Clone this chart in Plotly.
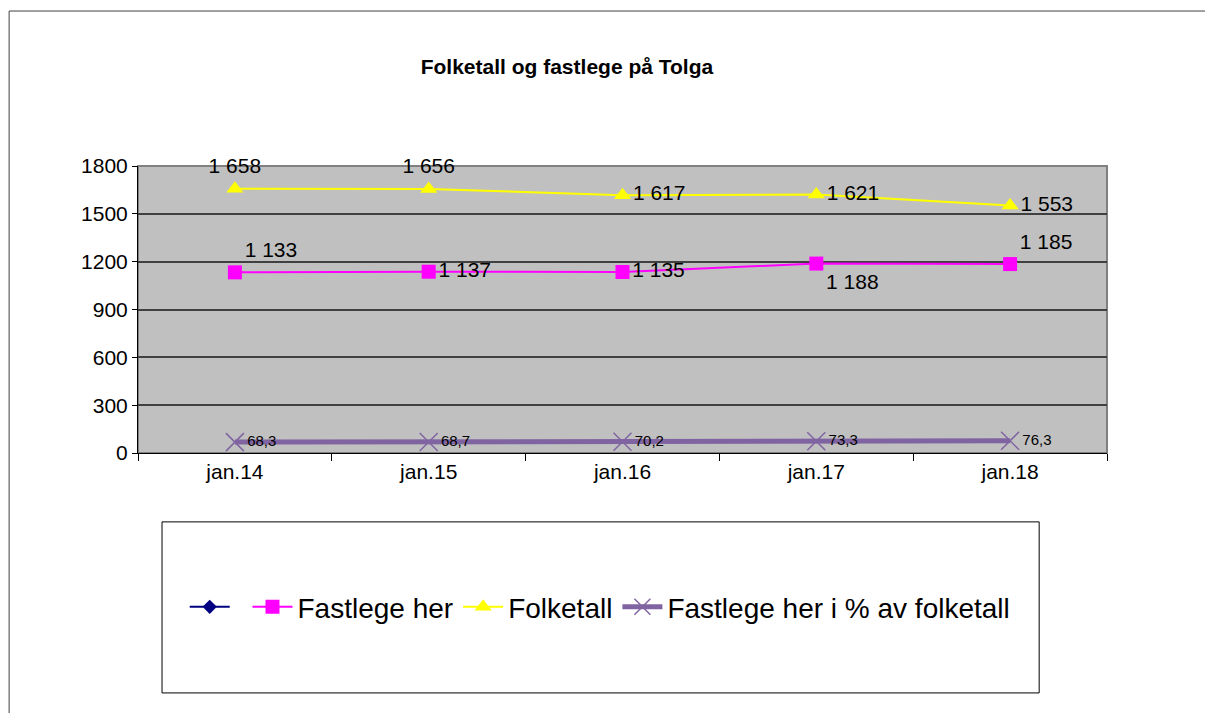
import plotly.graph_objects as go

categories = ["jan.14", "jan.15", "jan.16", "jan.17", "jan.18"]
fastlege = [1133, 1137, 1135, 1188, 1185]
folketall = [1658, 1656, 1617, 1621, 1553]
prosent = [68.3, 68.7, 70.2, 73.3, 76.3]
y_ticks = [0, 300, 600, 900, 1200, 1500, 1800]

def fmt_int(v):
    return f"{v:,}".replace(",", " ")

def fmt_dec(v):
    return f"{v:.1f}".replace(".", ",")

FONT = "Arial, Liberation Sans, sans-serif"

fig = go.Figure()

# empty first series (no name) shown only in legend
fig.add_trace(go.Scatter(
    x=[None], y=[None], mode="lines+markers", name=" ",
    line=dict(color="#000080", width=2),
    marker=dict(symbol="diamond", size=11, color="#000080"),
))

fig.add_trace(go.Scatter(
    x=categories, y=fastlege, mode="lines+markers+text", name="Fastlege her",
    line=dict(color="#FF00FF", width=2),
    marker=dict(symbol="square", size=14, color="#FF00FF"),
    text=[fmt_int(v) for v in fastlege],
    textposition=["top right", "middle right", "middle right", "bottom right", "top right"],
    textfont=dict(family=FONT, size=21, color="#000000"),
    cliponaxis=False,
))

fig.add_trace(go.Scatter(
    x=categories, y=folketall, mode="lines+markers+text", name="Folketall",
    line=dict(color="#FFFF00", width=2),
    marker=dict(symbol="triangle-up", size=15, color="#FFFF00"),
    text=[fmt_int(v) for v in folketall],
    textposition=["top center", "top center", "middle right", "middle right", "middle right"],
    textfont=dict(family=FONT, size=21, color="#000000"),
    cliponaxis=False,
))

fig.add_trace(go.Scatter(
    x=categories, y=prosent, mode="lines+markers+text", name="Fastlege her i % av folketall",
    line=dict(color="#8064A2", width=5),
    marker=dict(symbol="x-thin", size=18, color="#8064A2", line=dict(color="#8064A2", width=1.5)),
    text=[fmt_dec(v) for v in prosent],
    textposition="middle right",
    textfont=dict(family=FONT, size=15, color="#000000"),
    cliponaxis=False,
))

# plot-area border (grey), outer chart border, legend box
fig.add_shape(type="rect", xref="paper", yref="paper", x0=0, x1=1, y0=0, y1=1,
              line=dict(color="#808080", width=2), layer="below")
fig.add_shape(type="rect", xref="paper", yref="paper", x0=-0.133, x1=1.3, y0=-1.3, y1=1.54,
              line=dict(color="#404040", width=1))
fig.add_shape(type="rect", xref="paper", yref="paper", x0=0.0248, x1=0.930, y0=-0.836, y1=-0.240,
              line=dict(color="#000000", width=1))

fig.update_layout(
    width=1205, height=713,
    margin=dict(l=138, r=98, t=166, b=260),
    paper_bgcolor="#FFFFFF",
    plot_bgcolor="#C0C0C0",
    font=dict(family=FONT, color="#000000"),
    title=dict(text="<b>Folketall og fastlege på Tolga</b>", x=0.4705, xanchor="center",
               y=1 - 67 / 713, yanchor="middle", font=dict(family=FONT, size=21, color="#000000")),
    showlegend=True,
    legend=dict(orientation="h", x=0.477, xanchor="center", y=-0.537, yanchor="middle",
                font=dict(family=FONT, size=28, color="#000000"),
                bgcolor="rgba(0,0,0,0)", borderwidth=0, itemwidth=40, tracegroupgap=0),
    xaxis=dict(type="category", categoryorder="array", categoryarray=categories,
               range=[-0.5, 4.5], tickson="boundaries", ticks="outside", ticklen=7,
               tickcolor="#000000", showline=True, linecolor="#000000", linewidth=1,
               showgrid=False, tickfont=dict(family=FONT, size=21, color="#000000"),
               fixedrange=True),
    yaxis=dict(range=[0, 1800], tickvals=y_ticks, ticktext=[str(v) for v in y_ticks],
               ticks="outside", ticklen=5, tickcolor="#000000", showline=True,
               linecolor="#000000", linewidth=1, showgrid=True, gridcolor="#404040",
               gridwidth=1.5, zeroline=False,
               tickfont=dict(family=FONT, size=21, color="#000000"), fixedrange=True),
)

fig.write_html("out.html", config={"displayModeBar": False},
               post_script="document.body.style.margin='0px';document.body.style.overflow='hidden';")
